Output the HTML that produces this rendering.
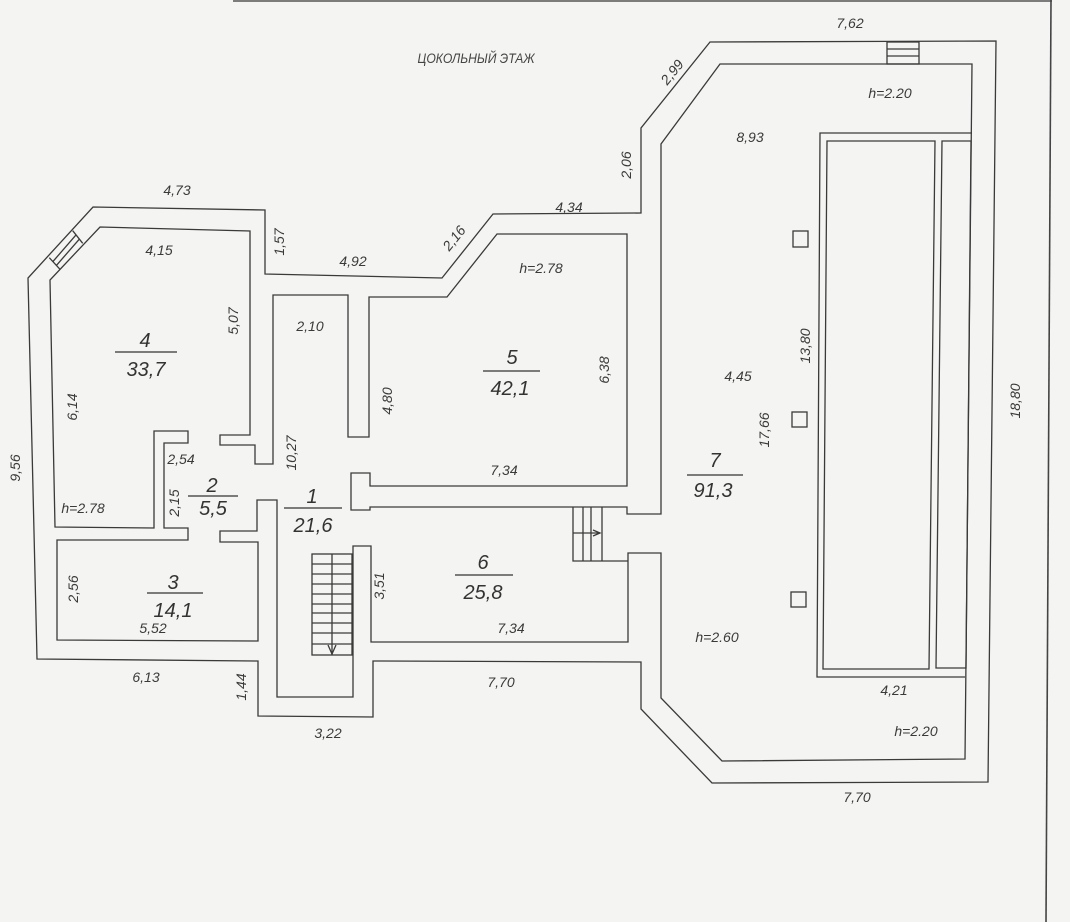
<!DOCTYPE html>
<html>
<head>
<meta charset="utf-8">
<style>
html,body{margin:0;padding:0;background:#f4f4f2;}
svg{display:block;}
.w{fill:none;stroke:#3a3a3a;stroke-width:1.3;stroke-linejoin:miter;}
.t{font-family:"Liberation Sans","DejaVu Sans",sans-serif;font-style:italic;font-size:14px;fill:#3a3a3a;text-anchor:middle;}
.a{font-family:"Liberation Sans","DejaVu Sans",sans-serif;font-style:italic;font-size:20px;fill:#333;text-anchor:middle;}
</style>
</head>
<body>
<svg width="1070" height="922" viewBox="0 0 1070 922" xmlns="http://www.w3.org/2000/svg">
<rect x="0" y="0" width="1070" height="922" fill="#f4f4f2"/>

<!-- frame -->
<line x1="233" y1="1" x2="1052" y2="1" stroke="#555" stroke-width="1.6"/>
<line x1="1051" y1="0" x2="1046" y2="922" stroke="#444" stroke-width="1.6"/>

<!-- outer walls -->
<polygon class="w" points="93,207 265,210 265,274 442,278 493,214 641,213 641,128 710,42 996,41 988,782 712,783 641,709 641,662 373,661 373,717 258,716 258,661 37,659 28,278"/>

<!-- inner walls -->
<polygon class="w" points="100,227 250,231 250,435 220,435 220,445 255,445 255,464 273,464 273,295 348,295 348,437 369,437 369,297 447,297 497,234 627,234 627,486 370,486 370,473 351,473 351,510 370,510 370,507 627,507 627,514 661,514 661,144 720,64 972,64 965,759 722,761 661,698 661,553 628,553 628,642 371,642 371,546 353,546 353,697 277,697 277,500 257,500 257,531 220,531 220,542 258,542 258,641 57,640 57,540 188,540 188,528 164,528 164,443 188,443 188,431 154,431 154,528 55,527 50,280"/>

<!-- pool -->
<polyline class="w" points="972,133 820,133 817,677 965,677"/>
<polygon class="w" points="827,141 935,141 929,669 823,669"/>
<polygon class="w" points="942,141 971,141 966,668 936,668"/>

<!-- columns -->
<rect class="w" x="793" y="231" width="15" height="16"/>
<rect class="w" x="792" y="412" width="15" height="15"/>
<rect class="w" x="791" y="592" width="15" height="15"/>

<!-- top window (room 7) -->
<rect class="w" x="887" y="42" width="32" height="22"/>
<line class="w" x1="887" y1="49" x2="919" y2="49"/>
<line class="w" x1="887" y1="56" x2="919" y2="56"/>

<!-- window room 4 -->
<line class="w" x1="72.7" y1="230.7" x2="82.7" y2="243.3"/>
<line class="w" x1="49.3" y1="257.7" x2="60" y2="269.3"/>
<line class="w" x1="76" y1="234.9" x2="52.9" y2="261.6"/>
<line class="w" x1="79.4" y1="239.1" x2="56.4" y2="265.4"/>

<!-- stair room 1 -->
<rect class="w" x="312" y="554" width="40" height="101"/>
<g class="w">
<line x1="312" y1="564" x2="352" y2="564"/>
<line x1="312" y1="574" x2="352" y2="574"/>
<line x1="312" y1="584" x2="352" y2="584"/>
<line x1="312" y1="594" x2="352" y2="594"/>
<line x1="312" y1="604" x2="352" y2="604"/>
<line x1="312" y1="613" x2="352" y2="613"/>
<line x1="312" y1="623" x2="352" y2="623"/>
<line x1="312" y1="633" x2="352" y2="633"/>
<line x1="312" y1="644" x2="352" y2="644"/>
<line x1="332" y1="554" x2="332" y2="655"/>
<polyline points="328,645 332,654 336,645"/>
</g>

<!-- stair to room 7 -->
<g class="w">
<polyline points="573,507 573,561 628,561"/>
<line x1="583" y1="507" x2="583" y2="561"/>
<line x1="591" y1="507" x2="591" y2="561"/>
<line x1="602" y1="507" x2="602" y2="561"/>
<line x1="573" y1="533" x2="600" y2="533"/>
<polyline points="593,530 600,533 593,536"/>
</g>

<!-- title -->
<text x="476" y="63" font-family="Liberation Sans, DejaVu Sans, sans-serif" font-style="italic" font-size="14" fill="#444" text-anchor="middle" textLength="117" lengthAdjust="spacingAndGlyphs">ЦОКОЛЬНЫЙ  ЭТАЖ</text>

<!-- dimension labels -->
<text class="t" x="177" y="195">4,73</text>
<text class="t" x="159" y="255">4,15</text>
<text class="t" transform="translate(279,242) rotate(-90)" x="0" y="5">1,57</text>
<text class="t" x="353" y="266">4,92</text>
<text class="t" x="310" y="331">2,10</text>
<text class="t" transform="translate(233,321) rotate(-90)" x="0" y="5">5,07</text>
<text class="t" transform="translate(72,407) rotate(-90)" x="0" y="5">6,14</text>
<text class="t" transform="translate(15,468) rotate(-90)" x="0" y="5">9,56</text>
<text class="t" transform="translate(387,401) rotate(-90)" x="0" y="5">4,80</text>
<text class="t" transform="translate(291,453) rotate(-90)" x="0" y="5">10,27</text>
<text class="t" x="181" y="464">2,54</text>
<text class="t" transform="translate(174,503) rotate(-90)" x="0" y="5">2,15</text>
<text class="t" x="83" y="513">h=2.78</text>
<text class="t" transform="translate(73,589) rotate(-90)" x="0" y="5">2,56</text>
<text class="t" x="153" y="633">5,52</text>
<text class="t" x="146" y="682">6,13</text>
<text class="t" transform="translate(241,687) rotate(-90)" x="0" y="5">1,44</text>
<text class="t" x="328" y="738">3,22</text>
<text class="t" transform="translate(379,586) rotate(-90)" x="0" y="5">3,51</text>
<text class="t" transform="translate(454,238) rotate(-51)" x="0" y="5">2,16</text>
<text class="t" x="569" y="212">4,34</text>
<text class="t" x="541" y="273">h=2.78</text>
<text class="t" transform="translate(604,370) rotate(-90)" x="0" y="5">6,38</text>
<text class="t" x="504" y="475">7,34</text>
<text class="t" x="511" y="633">7,34</text>
<text class="t" x="501" y="687">7,70</text>
<text class="t" x="850" y="28">7,62</text>
<text class="t" transform="translate(672,72) rotate(-51)" x="0" y="5">2,99</text>
<text class="t" x="890" y="98">h=2.20</text>
<text class="t" x="750" y="142">8,93</text>
<text class="t" transform="translate(626,165) rotate(-90)" x="0" y="5">2,06</text>
<text class="t" x="738" y="381">4,45</text>
<text class="t" transform="translate(805,346) rotate(-90)" x="0" y="5">13,80</text>
<text class="t" transform="translate(764,430) rotate(-90)" x="0" y="5">17,66</text>
<text class="t" transform="translate(1015,401) rotate(-90)" x="0" y="5">18,80</text>
<text class="t" x="717" y="642">h=2.60</text>
<text class="t" x="894" y="695">4,21</text>
<text class="t" x="916" y="736">h=2.20</text>
<text class="t" x="857" y="802">7,70</text>

<!-- room labels -->
<g stroke="#333" stroke-width="1.3">
<line x1="115" y1="352" x2="177" y2="352"/>
<line x1="188" y1="496" x2="238" y2="496"/>
<line x1="284" y1="508" x2="342" y2="508"/>
<line x1="147" y1="593" x2="203" y2="593"/>
<line x1="483" y1="371" x2="540" y2="371"/>
<line x1="455" y1="575" x2="513" y2="575"/>
<line x1="687" y1="475" x2="743" y2="475"/>
</g>
<text class="a" x="145" y="347">4</text>
<text class="a" x="146" y="376">33,7</text>
<text class="a" x="212" y="492">2</text>
<text class="a" x="213" y="515">5,5</text>
<text class="a" x="312" y="503">1</text>
<text class="a" x="313" y="532">21,6</text>
<text class="a" x="173" y="589">3</text>
<text class="a" x="173" y="617">14,1</text>
<text class="a" x="512" y="364">5</text>
<text class="a" x="510" y="395">42,1</text>
<text class="a" x="483" y="569">6</text>
<text class="a" x="483" y="599">25,8</text>
<text class="a" x="715" y="467">7</text>
<text class="a" x="713" y="497">91,3</text>
</svg>
</body>
</html>
